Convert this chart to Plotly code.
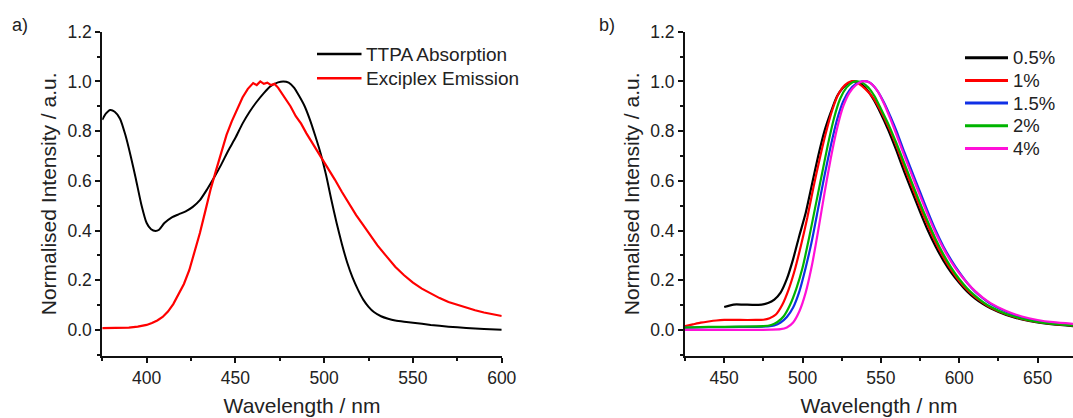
import plotly.graph_objects as go

# ---------------- Panel a data ----------------
abs_x = [375, 377, 379.5, 382, 385, 388, 391, 394, 397, 400, 402.5, 405, 407, 410, 414, 418, 422, 426,
         430, 434, 438, 442, 446, 450, 454, 458, 462, 466, 470, 474, 477, 480, 483, 486, 489, 492, 495,
         498, 501, 504, 507, 510, 513, 516, 519, 522, 525, 528, 532, 536, 540, 545, 550, 560, 570, 580,
         590, 600]
abs_y = [0.845, 0.87, 0.885, 0.878, 0.85, 0.785, 0.70, 0.605, 0.505, 0.43, 0.405, 0.398, 0.403, 0.43,
         0.452, 0.465, 0.477, 0.495, 0.522, 0.565, 0.613, 0.665, 0.722, 0.773, 0.83, 0.878, 0.918, 0.953,
         0.982, 0.996, 1.0, 0.995, 0.975, 0.94, 0.90, 0.845, 0.78, 0.71, 0.625, 0.525, 0.43, 0.345, 0.27,
         0.21, 0.162, 0.122, 0.093, 0.072, 0.055, 0.045, 0.038, 0.033, 0.029, 0.02, 0.013, 0.008, 0.004,
         0.001]

em_x = [375, 380, 385, 390, 395, 400, 403, 406, 409, 412, 415, 418, 421, 424, 427, 430, 433, 436, 439,
        442, 445, 448, 451, 454, 457, 460, 462, 464, 466, 468, 470, 472, 474, 476, 478, 481, 484, 487,
        490, 494, 498, 502, 506, 510, 514, 518, 522, 526, 530, 535, 540, 545, 550, 555, 560, 565, 570,
        575, 580, 585, 590, 595, 600]
em_y = [0.007, 0.007, 0.008, 0.009, 0.013, 0.02, 0.028, 0.038, 0.052, 0.074, 0.104, 0.145, 0.185, 0.24,
        0.31, 0.39, 0.477, 0.565, 0.64, 0.71, 0.785, 0.84, 0.89, 0.935, 0.97, 0.993, 0.985, 1.0, 0.99,
        0.995, 0.985, 0.99, 0.975, 0.955, 0.935, 0.90, 0.86, 0.83, 0.791, 0.745, 0.70, 0.652, 0.605,
        0.555, 0.507, 0.462, 0.422, 0.38, 0.34, 0.297, 0.254, 0.22, 0.19, 0.166, 0.146, 0.128, 0.112,
        0.10, 0.089, 0.079, 0.07, 0.062, 0.056]

# ---------------- Panel b data ----------------
x_05 = [450, 456, 462, 468, 474, 478, 482, 486, 490, 494, 498, 502, 506, 510, 514, 518, 522, 526, 530,
        533, 536, 540, 545, 550, 555, 560, 565, 570, 575, 580, 585, 590, 595, 600, 605, 610, 615, 620,
        630, 640, 650, 660, 673]
y_05 = [0.092, 0.102, 0.102, 0.101, 0.102, 0.108, 0.122, 0.15, 0.205, 0.285, 0.38, 0.47, 0.585, 0.70,
        0.80, 0.875, 0.94, 0.975, 0.995, 1.0, 0.995, 0.975, 0.93, 0.87, 0.80, 0.72, 0.635, 0.555, 0.475,
        0.40, 0.335, 0.278, 0.23, 0.19, 0.155, 0.127, 0.105, 0.087, 0.06, 0.042, 0.03, 0.022, 0.015]

x_1 = [425, 430, 435, 440, 445, 450, 460, 470, 475, 479, 483, 487, 491, 495, 499, 503, 507, 511, 515,
       519, 523, 527, 531, 533, 536, 540, 545, 550, 555, 560, 565, 570, 575, 580, 585, 590, 595, 600,
       605, 610, 615, 620, 630, 640, 650, 660, 673]
y_1 = [0.015, 0.022, 0.029, 0.034, 0.038, 0.04, 0.04, 0.04, 0.041, 0.047, 0.062, 0.10, 0.16, 0.24, 0.34,
       0.45, 0.575, 0.69, 0.795, 0.885, 0.95, 0.985, 1.0, 1.0, 0.99, 0.97, 0.935, 0.88, 0.815, 0.74,
       0.655, 0.575, 0.495, 0.42, 0.352, 0.292, 0.24, 0.197, 0.162, 0.133, 0.11, 0.09, 0.063, 0.044,
       0.032, 0.024, 0.018]

x_15 = [425, 440, 460, 478, 482, 486, 490, 494, 498, 502, 506, 510, 514, 518, 522, 526, 530, 534, 538,
        541, 544, 548, 552, 556, 560, 565, 570, 575, 580, 585, 590, 595, 600, 605, 610, 615, 620, 630,
        640, 650, 660, 673]
y_15 = [0.009, 0.011, 0.012, 0.014, 0.018, 0.03, 0.052, 0.09, 0.155, 0.25, 0.36, 0.49, 0.62, 0.74, 0.845,
        0.92, 0.965, 0.99, 1.0, 1.0, 0.99, 0.96, 0.915, 0.86, 0.80, 0.715, 0.635, 0.555, 0.475, 0.40,
        0.335, 0.28, 0.232, 0.19, 0.155, 0.128, 0.105, 0.073, 0.05, 0.036, 0.027, 0.02]

x_2 = [425, 440, 460, 475, 480, 484, 488, 492, 496, 500, 504, 508, 512, 516, 520, 524, 528, 532, 535,
       538, 542, 546, 550, 555, 560, 565, 570, 575, 580, 585, 590, 595, 600, 605, 610, 615, 620, 630,
       640, 650, 660, 673]
y_2 = [0.009, 0.012, 0.013, 0.015, 0.02, 0.032, 0.055, 0.10, 0.165, 0.25, 0.365, 0.49, 0.615, 0.74, 0.85,
       0.93, 0.975, 0.997, 1.0, 0.995, 0.975, 0.94, 0.89, 0.825, 0.75, 0.67, 0.59, 0.51, 0.435, 0.365,
       0.303, 0.25, 0.205, 0.168, 0.138, 0.113, 0.093, 0.064, 0.045, 0.032, 0.024, 0.017]

x_4 = [425, 450, 470, 480, 486, 490, 494, 498, 502, 506, 510, 514, 518, 522, 526, 530, 534, 538, 541,
       544, 548, 552, 556, 560, 565, 570, 575, 580, 585, 590, 595, 600, 605, 610, 615, 620, 630, 640,
       650, 660, 673]
y_4 = [0.0, 0.0, 0.0, 0.001, 0.003, 0.01, 0.03, 0.075, 0.15, 0.26, 0.40, 0.55, 0.69, 0.81, 0.90, 0.955,
       0.985, 1.0, 1.0, 0.99, 0.96, 0.91, 0.85, 0.785, 0.70, 0.62, 0.54, 0.462, 0.39, 0.327, 0.273,
       0.228, 0.19, 0.157, 0.13, 0.108, 0.076, 0.054, 0.04, 0.031, 0.024]

names_a = ["TTPA Absorption", "Exciplex Emission"]
colors_a = ["#000000", "#ff0000"]
names_b = ["0.5%", "1%", "1.5%", "2%", "4%"]
colors_b = ["#000000", "#ff0000", "#1030e6", "#00b400", "#ff10d8"]
xs_b = [x_05, x_1, x_15, x_2, x_4]
ys_b = [y_05, y_1, y_15, y_2, y_4]

W, H = 1073, 418
FONT = "Liberation Sans, Arial, sans-serif"
TXT = "#222222"

def px(v):
    return v / W

def py(v):
    return 1 - v / H

fig = go.Figure()
fig.add_trace(go.Scatter(x=abs_x, y=abs_y, mode="lines", name=names_a[0], showlegend=False,
                         line=dict(color=colors_a[0], width=2, shape="spline", smoothing=0.6),
                         xaxis="x", yaxis="y"))
fig.add_trace(go.Scatter(x=em_x, y=em_y, mode="lines", name=names_a[1], showlegend=False,
                         line=dict(color=colors_a[1], width=2.2),
                         xaxis="x", yaxis="y"))
for name, xs, ys, col in zip(names_b, xs_b, ys_b, colors_b):
    fig.add_trace(go.Scatter(x=xs, y=ys, mode="lines", name=name, showlegend=False,
                             line=dict(color=col, width=2.2, shape="spline", smoothing=0.6),
                             xaxis="x2", yaxis="y2"))

def xaxis(domain, rng, anchor):
    return dict(domain=domain, range=rng, anchor=anchor, showline=True, linecolor="#111", linewidth=2,
                ticks="outside", ticklen=5, tickwidth=1.5, tickcolor="#111", dtick=50, tick0=0,
                minor=dict(dtick=25, ticks="outside", ticklen=3, tickwidth=1.5, tickcolor="#111"),
                showgrid=False, zeroline=False,
                tickfont=dict(family=FONT, size=17.5, color=TXT),
                title=dict(text="Wavelength / nm", font=dict(family=FONT, size=21, color=TXT), standoff=11))

def yaxis(anchor):
    return dict(domain=[0.1483, 0.9242], range=[-0.105, 1.2], anchor=anchor, showline=True,
                linecolor="#111", linewidth=2, ticks="outside", ticklen=5, tickwidth=1.5,
                tickcolor="#111", dtick=0.2, tick0=0, tickformat=".1f",
                minor=dict(dtick=0.1, ticks="outside", ticklen=3, tickwidth=1.5, tickcolor="#111"),
                showgrid=False, zeroline=False,
                tickfont=dict(family=FONT, size=17.5, color=TXT),
                title=dict(text="Normalised Intensity / a.u.", font=dict(family=FONT, size=21, color=TXT),
                           standoff=5))

# legend keys (drawn as decoration) and labels
shapes = []
annotations = []
leg_a_rows = [54, 78.3]
for name, col, yy in zip(names_a, colors_a, leg_a_rows):
    shapes.append(dict(type="line", xref="paper", yref="paper", x0=px(317), x1=px(361.5),
                       y0=py(yy), y1=py(yy), line=dict(color=col, width=2.5)))
    annotations.append(dict(text=name, x=px(364), y=py(yy), xref="paper", yref="paper",
                            xanchor="left", yanchor="middle", showarrow=False,
                            font=dict(family=FONT, size=19, color=TXT)))
leg_b_rows = [57.7, 80.4, 103.1, 125.8, 148.5]
for name, col, yy in zip(names_b, colors_b, leg_b_rows):
    shapes.append(dict(type="line", xref="paper", yref="paper", x0=px(965), x1=px(1008),
                       y0=py(yy), y1=py(yy), line=dict(color=col, width=3)))
    annotations.append(dict(text=name, x=px(1010.5), y=py(yy), xref="paper", yref="paper",
                            xanchor="left", yanchor="middle", showarrow=False,
                            font=dict(family=FONT, size=18.5, color=TXT)))

annotations.append(dict(text="a)", x=px(20), y=py(25), xref="paper", yref="paper", showarrow=False,
                        xanchor="center", yanchor="middle", font=dict(family=FONT, size=18, color=TXT)))
annotations.append(dict(text="b)", x=px(607), y=py(25), xref="paper", yref="paper", showarrow=False,
                        xanchor="center", yanchor="middle", font=dict(family=FONT, size=18, color=TXT)))

fig.update_layout(
    width=W, height=H,
    margin=dict(l=0, r=0, t=0, b=0, autoexpand=False),
    paper_bgcolor="white", plot_bgcolor="white",
    font=dict(family=FONT, color=TXT),
    showlegend=False,
    xaxis=xaxis([0.0953, 0.4676], [375, 600], "y"),
    yaxis=yaxis("x"),
    xaxis2=xaxis([0.6384, 1.0], [425, 672.6], "y2"),
    yaxis2=yaxis("x2"),
    shapes=shapes,
    annotations=annotations,
)

fig.write_html("out.html", config={"displayModeBar": False},
               post_script="document.body.style.margin='0px';document.body.style.overflow='hidden';")
